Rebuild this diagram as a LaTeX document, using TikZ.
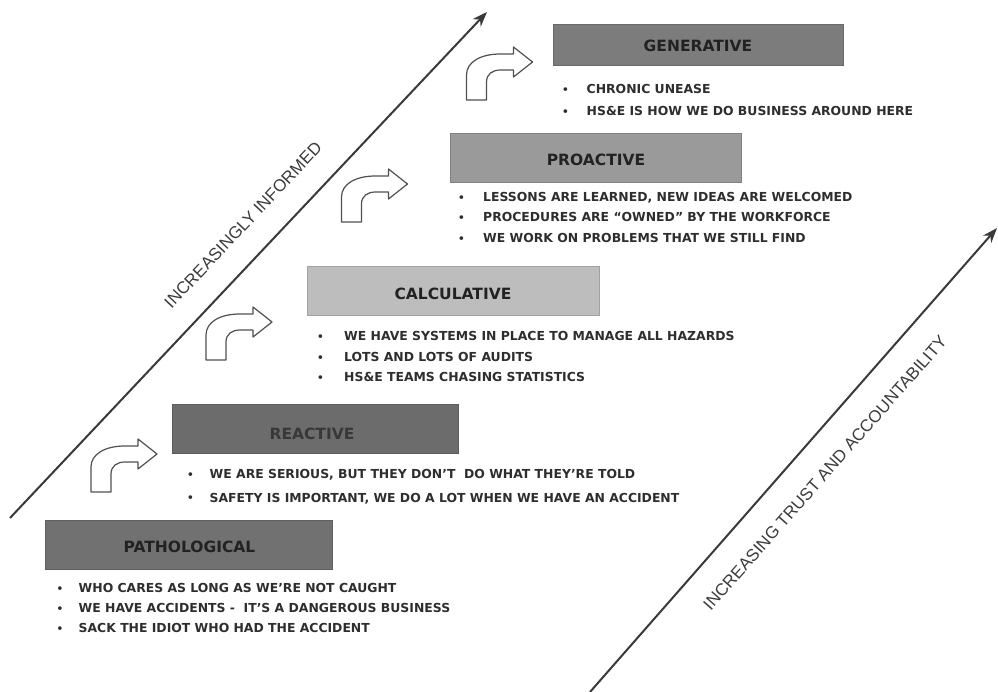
\documentclass[tikz,border=0pt]{standalone}
\usepackage{fontspec}
\setmainfont{DejaVu Sans}
\newfontfamily\diagfont{Liberation Sans}
\usetikzlibrary{arrows.meta}
\definecolor{bodytxt}{HTML}{2E2E2E}
\definecolor{titletxt}{HTML}{222222}
\definecolor{axiscol}{HTML}{3A3A3A}
\definecolor{labcol}{HTML}{3C3C3C}
\definecolor{genfill}{HTML}{7C7C7C}
\definecolor{profill}{HTML}{9A9A9A}
\definecolor{calfill}{HTML}{BDBDBD}
\definecolor{reafill}{HTML}{6C6C6C}
\definecolor{patfill}{HTML}{717171}
\definecolor{turncol}{HTML}{505050}
\newcommand{\bul}[2]{\makebox[#1][l]{\raisebox{0.3pt}{\fontsize{10.5}{10.5}\selectfont\textbullet}}#2}
\begin{document}
\begin{tikzpicture}[x=1pt,y=-1pt,
  stagebox/.style={rectangle, draw=#1!85!black, fill=#1, line width=0.5pt,
    minimum width=290pt, minimum height=49pt, inner sep=0pt},
  stagetitle/.style={inner sep=0pt, text=titletxt,
    font=\bfseries\fontsize{15.5}{18}\selectfont},
  bline/.style={inner sep=0pt, anchor=base west, text=bodytxt,
    font=\bfseries\fontsize{12.4}{15}\selectfont},
  axis/.style={draw=axiscol, line width=2pt, -{Stealth[length=15pt,width=11pt]}},
  axislabel/.style={inner sep=0pt, text=labcol, font=\diagfont\fontsize{17}{20}\selectfont},
  turn/.pic={\draw[turncol, line width=1.2pt, fill=white, line join=round]
    (0,0) -- (20,0) -- (20,-18) .. controls (20,-26) and (26,-30) .. (34,-30)
    -- (47,-30) -- (47,-23) -- (66,-38) -- (47,-53) -- (47,-46) -- (34,-46)
    .. controls (14,-46) and (0,-38) .. (0,-25) -- cycle;}
]
\useasboundingbox[fill=white] (0,0) rectangle (998,692);

% axes
\coordinate (l0) at (10,518);
\coordinate (l1) at (487,12);
\draw[axis] (l0) -- (l1);
\coordinate (r0) at (590,692);
\coordinate (r1) at (997,228);
\draw[axis] (r0) -- (r1);
\node[axislabel, rotate=46.7] (inf) at (243,225) {INCREASINGLY INFORMED};
\node[axislabel, rotate=48.6] (trust) at (825,473) {INCREASING TRUST AND ACCOUNTABILITY};

% turning arrows
\pic at (91,492) {turn};
\pic at (206,360) {turn};
\pic at (341.5,222) {turn};
\pic at (466.5,100) {turn};

% stage boxes
\node[stagebox=genfill, minimum height=41pt] (gen) at (698,44.5) {};
\node[stagetitle] (gent) at (698,46) {GENERATIVE};
\node[stagebox=profill, minimum width=291pt] (pro) at (595.5,158) {};
\node[stagetitle] (prot) at (596,160) {PROACTIVE};
\node[stagebox=calfill, minimum width=292pt] (cal) at (453,290.5) {};
\node[stagetitle] (calt) at (453,294) {CALCULATIVE};
\node[stagebox=reafill, minimum width=286pt] (rea) at (315,428.5) {};
\node[stagetitle, text=titletxt!70!reafill] (reat) at (312,434) {REACTIVE};
\node[stagebox=patfill, minimum width=287pt] (pat) at (188.5,545) {};
\node[stagetitle] (patt) at (189.5,546.5) {PATHOLOGICAL};

% bullet lines
\node[bline] (g1) at (562,93.5) {\bul{24.5pt}{CHRONIC UNEASE}};
\node[bline] (g2) at (562,115.5) {\bul{24.5pt}{HS\&E IS HOW WE DO BUSINESS AROUND HERE}};

\node[bline] (p1) at (458,201.5) {\bul{25pt}{LESSONS ARE LEARNED, NEW IDEAS ARE WELCOMED}};
\node[bline] (p2) at (458,221.5) {\bul{25pt}{PROCEDURES ARE ``OWNED'' BY THE WORKFORCE}};
\node[bline] (p3) at (458,242.5) {\bul{25pt}{WE WORK ON PROBLEMS THAT WE STILL FIND}};

\node[bline] (c1) at (317,341) {\bul{27pt}{WE HAVE SYSTEMS IN PLACE TO MANAGE ALL HAZARDS}};
\node[bline] (c2) at (317,361.5) {\bul{27pt}{LOTS AND LOTS OF AUDITS}};
\node[bline] (c3) at (317,381.5) {\bul{27pt}{HS\&E TEAMS CHASING STATISTICS}};

\node[bline] (r1n) at (187,478.5) {\bul{22.5pt}{WE ARE SERIOUS, BUT THEY DON'T\ \ DO WHAT THEY'RE TOLD}};
\node[bline] (r2n) at (187,502) {\bul{22.5pt}{SAFETY IS IMPORTANT, WE DO A LOT WHEN WE HAVE AN ACCIDENT}};

\node[bline] (t1) at (56.5,592.5) {\bul{22pt}{WHO CARES AS LONG AS WE'RE NOT CAUGHT}};
\node[bline] (t2) at (56.5,612.5) {\bul{22pt}{WE HAVE ACCIDENTS -\ \ IT'S A DANGEROUS BUSINESS}};
\node[bline] (t3) at (56.5,632.5) {\bul{22pt}{SACK THE IDIOT WHO HAD THE ACCIDENT}};
\end{tikzpicture}
\end{document}
